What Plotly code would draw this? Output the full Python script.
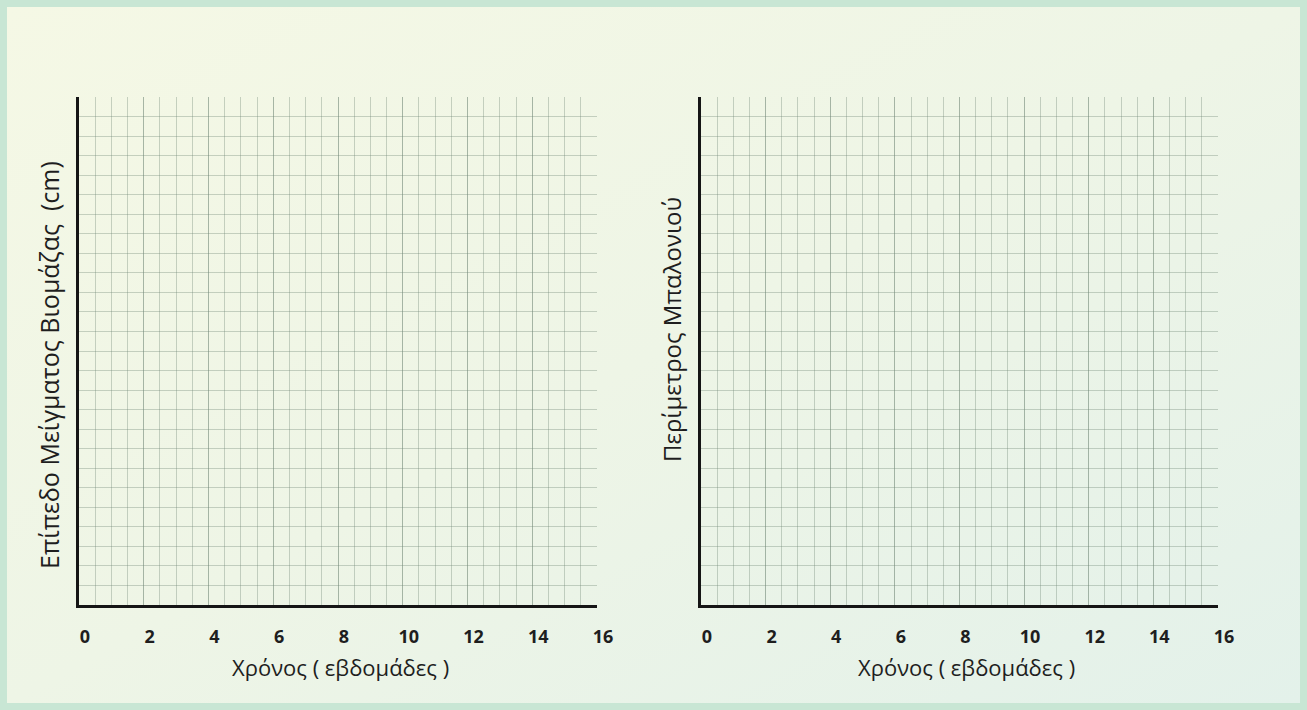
import base64
import plotly.graph_objects as go

# ---- data (axis definitions) ----
x_tick_values = [0, 2, 4, 6, 8, 10, 12, 14, 16]
x_tick_labels = ["0", "2", "4", "6", "8", "10", "12", "14", "16"]
x_range = [0, 16]
x_minor_step = 0.5
y_range = [0, 26]
y_step = 1
x_title = "Χρόνος ( εβδομάδες )"
y_title_left = "Επίπεδο Μείγματος Βιομάζας  (cm)"
y_title_right = "Περίμετρος Μπαλονιού"

W, H = 1307, 710
BORDER = 7
grid_col = "rgba(115,135,118,0.36)"
axis_col = "#151515"
text_col = "#1e1e1e"
FONT = "Open Sans"

svg = (
    '<svg xmlns="http://www.w3.org/2000/svg" width="1293" height="696" preserveAspectRatio="none">'
    '<defs><linearGradient id="g" x1="0" y1="0" x2="1" y2="1">'
    '<stop offset="0" stop-color="#f5f8e5"/>'
    '<stop offset="0.5" stop-color="#eef5e6"/>'
    '<stop offset="1" stop-color="#e3f1ea"/>'
    '</linearGradient></defs>'
    '<rect x="0" y="0" width="1293" height="696" fill="url(#g)"/></svg>'
)
bg_uri = "data:image/svg+xml;base64," + base64.b64encode(svg.encode()).decode()

fig = go.Figure()
fig.add_trace(go.Scatter(x=[], y=[], xaxis="x", yaxis="y", showlegend=False))
fig.add_trace(go.Scatter(x=[], y=[], xaxis="x2", yaxis="y2", showlegend=False))

def px_x(p):
    return p / W

def px_y(p):
    return 1 - p / H

y_dom = [px_y(605), px_y(97)]

def xaxis_cfg(dom, anchor):
    return dict(
        domain=dom, anchor=anchor, range=x_range,
        tickmode="array", tickvals=x_tick_values, ticktext=x_tick_labels,
        showgrid=True, gridcolor=grid_col, gridwidth=1,
        minor=dict(dtick=x_minor_step, showgrid=True, gridcolor=grid_col, gridwidth=1),
        showline=True, linecolor=axis_col, linewidth=3,
        ticks="", zeroline=False, automargin=False,
        ticklabelshift=6, ticklabelstandoff=13,
        tickfont=dict(family=FONT, size=18, color=text_col, weight="bold"),
        fixedrange=True,
    )

def yaxis_cfg(anchor):
    return dict(
        domain=y_dom, anchor=anchor, range=y_range, dtick=y_step, tick0=0,
        showgrid=True, gridcolor=grid_col, gridwidth=1,
        showline=True, linecolor=axis_col, linewidth=3,
        showticklabels=False, ticks="", zeroline=False, automargin=False,
        fixedrange=True,
    )

fig.update_layout(
    width=W, height=H,
    margin=dict(l=0, r=0, t=0, b=0),
    paper_bgcolor="#c8e6d4",
    plot_bgcolor="rgba(0,0,0,0)",
    showlegend=False,
    xaxis=xaxis_cfg([px_x(79), px_x(597)], "y"),
    yaxis=yaxis_cfg("x"),
    xaxis2=xaxis_cfg([px_x(701), px_x(1218)], "y2"),
    yaxis2=yaxis_cfg("x2"),
    images=[dict(
        source=bg_uri, xref="paper", yref="paper",
        x=BORDER / W, y=1 - BORDER / H,
        sizex=1 - 2 * BORDER / W, sizey=1 - 2 * BORDER / H,
        xanchor="left", yanchor="top", sizing="stretch", layer="below",
    )],
    annotations=[
        dict(text=x_title, xref="paper", yref="paper", x=px_x(340), y=px_y(667),
             showarrow=False, xanchor="center", yanchor="middle",
             font=dict(family=FONT, size=22, color=text_col)),
        dict(text=x_title, xref="paper", yref="paper", x=px_x(966), y=px_y(667),
             showarrow=False, xanchor="center", yanchor="middle",
             font=dict(family=FONT, size=22, color=text_col)),
        dict(text=y_title_left, xref="paper", yref="paper", x=px_x(49), y=px_y(365),
             showarrow=False, xanchor="center", yanchor="middle", textangle=-90,
             font=dict(family=FONT, size=25, color=text_col)),
        dict(text=y_title_right, xref="paper", yref="paper", x=px_x(671), y=px_y(330),
             showarrow=False, xanchor="center", yanchor="middle", textangle=-90,
             font=dict(family=FONT, size=24, color=text_col)),
    ],
)

fig.write_html("out.html", config={"displayModeBar": False},
               post_script="document.body.style.margin='0';")
